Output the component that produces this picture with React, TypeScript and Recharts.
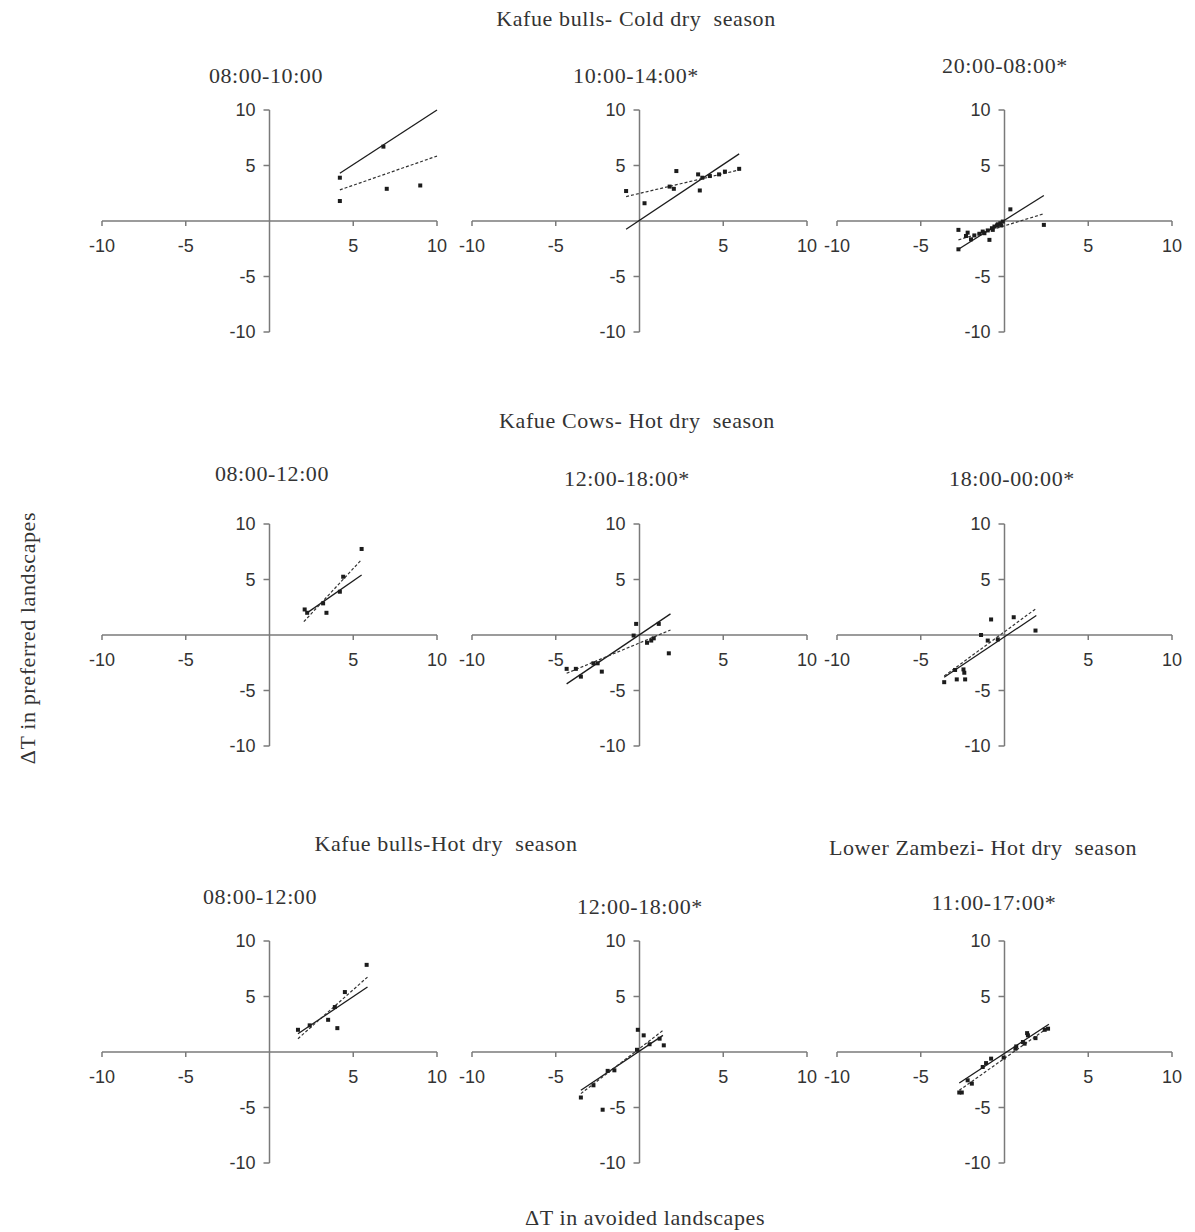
import { ScatterChart, Scatter, XAxis, YAxis, ReferenceLine } from "recharts"

// ---- data ----
const axisTicks = [-10, -5, 5, 10]

const bullsCold0810Pts = [[4.2, 3.9], [4.2, 1.8], [6.8, 6.7], [7.0, 2.9], [9.0, 3.2]]
const bullsCold0810Solid = [[4.2, 4.3], [10, 10]]
const bullsCold0810Dashed = [[4.2, 2.8], [10, 5.85]]

const bullsCold1014Pts = [
  [-0.8, 2.7], [0.3, 1.6], [1.8, 3.1], [2.05, 2.9], [2.2, 4.5], [3.5, 4.2],
  [3.6, 2.75], [3.75, 3.9], [4.2, 4.05], [4.75, 4.2], [5.1, 4.45], [5.95, 4.7],
]
const bullsCold1014Solid = [[-0.8, -0.75], [5.95, 6.05]]
const bullsCold1014Dashed = [[-0.8, 2.2], [5.95, 4.6]]

const bullsCold2008Pts = [
  [-2.75, -0.8], [-2.75, -2.55], [-2.2, -1.05], [-2.0, -1.65], [-2.3, -1.35], [-1.8, -1.3],
  [-1.5, -1.15], [-1.2, -1.1], [-1.3, -0.95], [-1.0, -0.85], [-0.9, -1.7], [-0.75, -0.65],
  [-0.7, -0.8], [-0.6, -0.5], [-0.45, -0.4], [-0.4, -0.3], [-0.25, -0.2], [-0.1, -0.05],
  [-0.2, -0.4], [0.35, 1.05], [2.35, -0.35],
]
const bullsCold2008Solid = [[-2.75, -2.55], [2.35, 2.3]]
const bullsCold2008Dashed = [[-2.75, -1.7], [2.35, 0.65]]

const cowsHot0812Pts = [[2.1, 2.3], [2.25, 2.0], [3.2, 2.85], [3.4, 2.0], [4.2, 3.9], [4.4, 5.25], [5.5, 7.75]]
const cowsHot0812Solid = [[2.2, 1.95], [5.5, 5.4]]
const cowsHot0812Dashed = [[2.05, 1.2], [5.5, 6.8]]

const cowsHot1218Pts = [
  [-4.35, -3.05], [-3.8, -3.05], [-3.5, -3.75], [-2.75, -2.55], [-2.5, -2.55], [-2.25, -3.3],
  [-0.35, -0.05], [-0.2, 1.0], [0.45, -0.7], [0.7, -0.5], [0.85, -0.3], [1.15, 1.0], [1.75, -1.65],
]
const cowsHot1218Solid = [[-4.35, -4.4], [1.85, 1.9]]
const cowsHot1218Dashed = [[-4.35, -3.45], [1.85, 0.45]]

const cowsHot1800Pts = [
  [-3.6, -4.25], [-2.95, -3.15], [-2.85, -4.0], [-2.45, -3.1], [-2.35, -4.0], [-2.4, -3.4],
  [-1.4, 0.0], [-0.8, 1.4], [-1.0, -0.5], [-0.4, -0.4], [0.55, 1.6], [1.85, 0.4],
]
const cowsHot1800Solid = [[-3.6, -3.8], [1.9, 1.75]]
const cowsHot1800Dashed = [[-3.6, -3.7], [1.9, 2.4]]

const bullsHot0812Pts = [[1.7, 2.0], [2.4, 2.4], [3.5, 2.9], [3.9, 4.05], [4.05, 2.15], [4.5, 5.4], [5.8, 7.85]]
const bullsHot0812Solid = [[1.7, 1.65], [5.85, 5.85]]
const bullsHot0812Dashed = [[1.7, 1.2], [5.85, 6.75]]

const bullsHot1218Pts = [
  [-3.5, -4.1], [-2.75, -3.0], [-1.9, -1.7], [-1.5, -1.65], [-2.2, -5.2], [-0.15, 0.2],
  [-0.1, 2.0], [0.25, 1.5], [0.6, 0.7], [1.2, 1.2], [1.45, 0.6],
]
const bullsHot1218Solid = [[-3.5, -3.45], [1.4, 1.5]]
const bullsHot1218Dashed = [[-3.5, -3.75], [1.45, 2.0]]

const zambeziHot1117Pts = [
  [-2.7, -3.65], [-2.55, -3.65], [-2.2, -2.55], [-1.95, -2.85], [-1.3, -1.35], [-1.1, -1.0],
  [-0.8, -0.6], [-0.05, -0.5], [0.65, 0.3], [0.7, 0.5], [1.1, 0.9], [1.2, 0.75], [1.35, 1.7],
  [1.4, 1.5], [1.85, 1.25], [2.4, 2.0], [2.6, 2.1],
]
const zambeziHot1117Solid = [[-2.7, -2.8], [2.65, 2.5]]
const zambeziHot1117Dashed = [[-2.7, -3.45], [2.65, 2.25]]

// ---- styling / layout ----
const PLOT_W = 335
const PLOT_H = 222
const M = 40
const AX_SIZE = 30 // space reserved by each axis inside the margin
const AXIS = "#7a7a7a"
const INK = "#1c1c1c"
const TEXT = "#333"
const SERIF = "'Liberation Serif', 'Times New Roman', serif"
const SANS = "'Liberation Sans', Arial, sans-serif"

type Pair = number[][]

interface PanelDef {
  title: string
  pts: Pair
  solid: Pair
  dashed: Pair
  left: number
  top: number
  tx: number
  ty: number
}

const COLS = [102, 471.5, 837]
const ROWS = [109.5, 523.5, 940.5]

const panels: PanelDef[] = [
  { title: "08:00-10:00", pts: bullsCold0810Pts, solid: bullsCold0810Solid, dashed: bullsCold0810Dashed, left: COLS[0], top: ROWS[0], tx: 266, ty: 76 },
  { title: "10:00-14:00*", pts: bullsCold1014Pts, solid: bullsCold1014Solid, dashed: bullsCold1014Dashed, left: COLS[1], top: ROWS[0], tx: 636, ty: 76 },
  { title: "20:00-08:00*", pts: bullsCold2008Pts, solid: bullsCold2008Solid, dashed: bullsCold2008Dashed, left: COLS[2], top: ROWS[0], tx: 1005, ty: 66 },
  { title: "08:00-12:00", pts: cowsHot0812Pts, solid: cowsHot0812Solid, dashed: cowsHot0812Dashed, left: COLS[0], top: ROWS[1], tx: 272, ty: 474 },
  { title: "12:00-18:00*", pts: cowsHot1218Pts, solid: cowsHot1218Solid, dashed: cowsHot1218Dashed, left: COLS[1], top: ROWS[1], tx: 627, ty: 479 },
  { title: "18:00-00:00*", pts: cowsHot1800Pts, solid: cowsHot1800Solid, dashed: cowsHot1800Dashed, left: COLS[2], top: ROWS[1], tx: 1012, ty: 479 },
  { title: "08:00-12:00", pts: bullsHot0812Pts, solid: bullsHot0812Solid, dashed: bullsHot0812Dashed, left: COLS[0], top: ROWS[2], tx: 260, ty: 897 },
  { title: "12:00-18:00*", pts: bullsHot1218Pts, solid: bullsHot1218Solid, dashed: bullsHot1218Dashed, left: COLS[1], top: ROWS[2], tx: 640, ty: 907 },
  { title: "11:00-17:00*", pts: zambeziHot1117Pts, solid: zambeziHot1117Solid, dashed: zambeziHot1117Dashed, left: COLS[2], top: ROWS[2], tx: 994, ty: 903 },
]

const headings = [
  { text: "Kafue bulls- Cold dry  season", x: 636, y: 19 },
  { text: "Kafue Cows- Hot dry  season", x: 637, y: 421 },
  { text: "Kafue bulls-Hot dry  season", x: 446, y: 844 },
  { text: "Lower Zambezi- Hot dry  season", x: 983, y: 848 },
]

// ticks are drawn on the crossing axes through the origin
const XTick = (props: any) => {
  const { x, y, payload } = props
  return (
    <g transform={`translate(${x},${y - PLOT_H / 2})`}>
      <line x1={0} y1={0} x2={0} y2={5} stroke={AXIS} strokeWidth={1.5} />
      <text x={0} y={25} dy="0.35em" textAnchor="middle" fontFamily={SANS} fontSize={18} fill={TEXT}>
        {payload.value}
      </text>
    </g>
  )
}

const YTick = (props: any) => {
  const { x, y, payload } = props
  return (
    <g transform={`translate(${x + PLOT_W / 2},${y})`}>
      <line x1={-6} y1={0} x2={0} y2={0} stroke={AXIS} strokeWidth={1.5} />
      <text x={-14} y={0} dy="0.35em" textAnchor="end" fontFamily={SANS} fontSize={18} fill={TEXT}>
        {payload.value}
      </text>
    </g>
  )
}

const Square = (props: any) => (
  <rect x={props.cx - 2} y={props.cy - 2} width={4} height={4} fill={INK} />
)

const toPts = (a: Pair) => a.map(([x, y]) => ({ x, y }))

function Panel({ p }: { p: PanelDef }) {
  const solid = toPts(p.solid)
  const dashed = toPts(p.dashed)
  return (
    <div style={{ position: "absolute", left: p.left - M, top: p.top - M }}>
      <ScatterChart
        width={PLOT_W + 2 * M}
        height={PLOT_H + 2 * M}
        margin={{ top: M, right: M, bottom: M - AX_SIZE, left: M - AX_SIZE }}
      >
        <XAxis
          type="number"
          dataKey="x"
          domain={[-10, 10]}
          ticks={axisTicks}
          interval={0}
          height={AX_SIZE}
          axisLine={false}
          tickLine={false}
          tickSize={0}
          tickMargin={0}
          tick={XTick}
        />
        <YAxis
          type="number"
          dataKey="y"
          domain={[-10, 10]}
          ticks={axisTicks}
          interval={0}
          width={AX_SIZE}
          axisLine={false}
          tickLine={false}
          tickSize={0}
          tickMargin={0}
          tick={YTick}
        />
        <ReferenceLine y={0} stroke={AXIS} strokeWidth={1.5} />
        <ReferenceLine x={0} stroke={AXIS} strokeWidth={1.5} />
        <ReferenceLine segment={solid} stroke={INK} strokeWidth={1.3} ifOverflow="visible" />
        <ReferenceLine segment={dashed} stroke="#333" strokeWidth={1.2} strokeDasharray="3 2" ifOverflow="visible" />
        <Scatter data={toPts(p.pts)} shape={Square} isAnimationActive={false} />
      </ScatterChart>
    </div>
  )
}

const textStyle = {
  position: "absolute" as const,
  fontFamily: SERIF,
  fontSize: 22,
  letterSpacing: 0.6,
  color: TEXT,
  whiteSpace: "pre" as const,
  lineHeight: 1,
  transform: "translate(-50%, -50%)",
}

export default function App() {
  return (
    <div style={{ position: "absolute", left: 0, top: 0, width: 1195, height: 1232, background: "#fff", overflow: "hidden" }}>
      {headings.map((h) => (
        <div key={h.text} style={{ ...textStyle, left: h.x, top: h.y }}>{h.text}</div>
      ))}
      {panels.map((p, i) => (
        <div key={"t" + i} style={{ ...textStyle, left: p.tx, top: p.ty }}>{p.title}</div>
      ))}
      {panels.map((p, i) => (
        <Panel key={i} p={p} />
      ))}
      <div style={{ ...textStyle, left: 28, top: 638, transform: "translate(-50%, -50%) rotate(-90deg)" }}>
        ΔT in preferred landscapes
      </div>
      <div style={{ ...textStyle, left: 645, top: 1218 }}>ΔT in avoided landscapes</div>
    </div>
  )
}
